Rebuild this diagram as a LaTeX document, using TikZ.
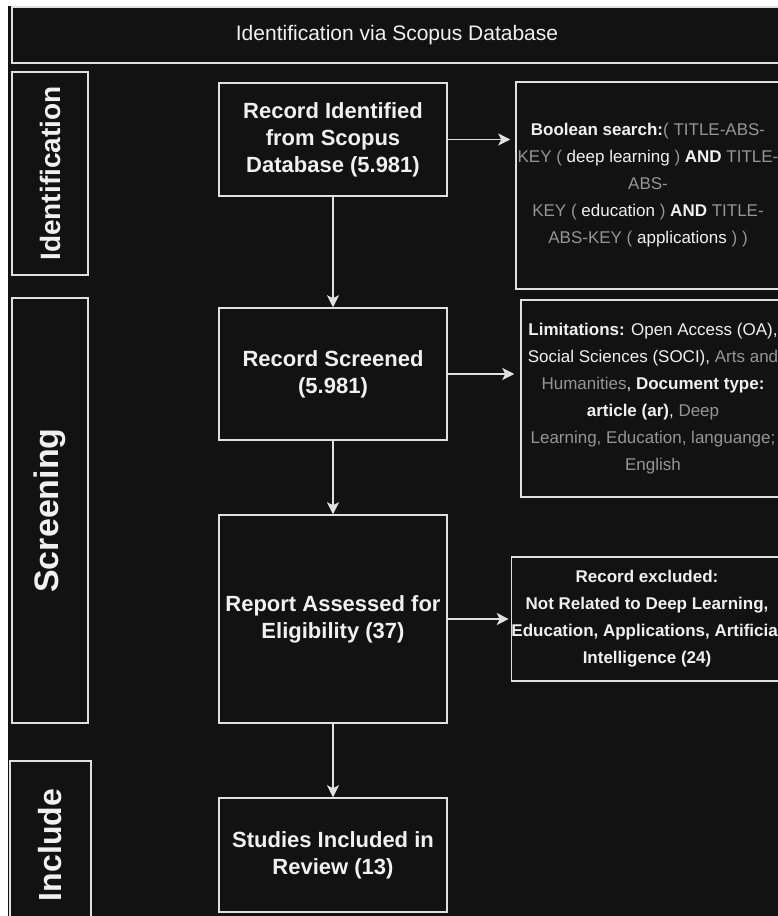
\documentclass[tikz,border=0pt]{standalone}
\usepackage{fontspec}
\setmainfont{Liberation Sans}
\usetikzlibrary{arrows.meta}
\definecolor{bgdark}{HTML}{121212}
\definecolor{lineclr}{HTML}{E0E0E0}
\definecolor{txtgrey}{HTML}{959595}
\definecolor{txtwhite}{HTML}{F0F0F0}
\newcommand{\gr}[1]{\textcolor{txtgrey}{#1}}
\newcommand{\wb}[1]{\textbf{#1}}

\begin{document}
\begin{tikzpicture}[
	x=1pt, y=-1pt,
	every node/.style={text=txtwhite, inner sep=0pt},
	box/.style={shape=rectangle, draw=lineclr, line width=1.5pt, fill=bgdark},
	stepbox/.style={box, align=center, minimum width=228, font=\bfseries\fontsize{22}{27}\selectfont},
	notebox/.style={box, align=center, font=\fontsize{17}{27}\selectfont},
	phasebox/.style={box, rotate=90, minimum height=76, font=\bfseries\fontsize{32}{36}\selectfont},
	flow/.style={draw=lineclr, line width=1.5pt, -{Stealth[length=12pt, width=12pt, inset=3pt]}},
]
\useasboundingbox (0,0) rectangle (778,916);
\fill[white] (0,0) rectangle (778,916);
\fill[bgdark] (8,6) rectangle (778,916);

\node[box, minimum width=770, minimum height=56, font=\fontsize{21}{25}\selectfont] (head) at (397,35) {Identification via Scopus Database};

\node[phasebox, minimum width=203, font=\bfseries\fontsize{28}{32}\selectfont] (identph) at (50,173.5) {Identification};
\node[phasebox, minimum width=425, font=\bfseries\fontsize{34}{38}\selectfont] (screenph) at (50,510.5) {Screening};
\node[phasebox, minimum width=168, minimum height=81] (inclph) at (50.5,845) {Include};

\node[stepbox, minimum height=113] (rec) at (333,139.5) {Record Identified\\from Scopus\\Database (5.981)};
\node[stepbox, minimum height=132] (scr) at (333,374) {Record Screened\\(5.981)};
\node[stepbox, minimum height=208] (elig) at (333,619) {Report Assessed for\\Eligibility (37)};
\node[stepbox, minimum height=114] (incl) at (333,855) {Studies Included in\\Review (13)};

\node[notebox, minimum width=264, minimum height=207] (bool) at (648,185.5) {\wb{Boolean search:}\gr{( TITLE-ABS-}\\
	\gr{KEY (} deep learning \gr{)} \wb{AND} \gr{TITLE-}\\
	\gr{ABS-}\\
	\gr{KEY (} education \gr{)} \wb{AND} \gr{TITLE-}\\
	\gr{ABS-KEY (} applications \gr{) )}};
\node[notebox, minimum width=264, minimum height=197] (lim) at (653,398.5) {\wb{Limitations:} Open Access (OA),\\
	Social Sciences (SOCI), \gr{Arts and}\\
	\gr{Humanities}, \wb{Document type:}\\
	\wb{article (ar)}, \gr{Deep}\\
	\gr{Learning, Education, languange;}\\
	\gr{English}};
\node[notebox, minimum width=270, minimum height=124, font=\bfseries\fontsize{17}{27}\selectfont] (excl) at (647,619) {Record excluded:\\Not Related to Deep Learning,\\Education, Applications, Artificial\\Intelligence (24)};

\draw[flow] (rec) -- (scr);
\draw[flow] (scr) -- (elig);
\draw[flow] (elig) -- (incl);
\draw[flow, shorten >=5pt] (rec.east) -- (rec.east -| bool.west);
\draw[flow, shorten >=6pt] (scr.east) -- (scr.east -| lim.west);
\draw[flow, shorten >=2pt] (elig.east) -- (excl.west);
\end{tikzpicture}
\end{document}
